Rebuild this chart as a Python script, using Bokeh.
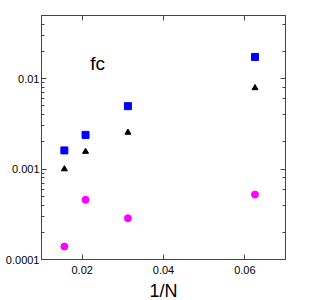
from bokeh.plotting import figure
from bokeh.models import LinearAxis, LogAxis, Label, FixedTicker, CustomJSTickFormatter
from bokeh.embed import file_html
from bokeh.resources import INLINE

# data
invN = [0.015625, 0.0208333, 0.03125, 0.0625]
blue_sq = [0.00161, 0.00239, 0.00497, 0.0174]
black_tri = [0.00100, 0.00156, 0.00254, 0.0079]
magenta_c = [0.000139, 0.000457, 0.000286, 0.000523]

xticks = [0.02, 0.04, 0.06]
xtick_labels = ["0.02", "0.04", "0.06"]
yticks = [0.0001, 0.001, 0.01]
ytick_labels = ["0.0001", "0.001", "0.01"]

FONT = "Liberation Sans"
AXC = "#444444"

p = figure(y_axis_type="log", x_range=(0.01, 0.07), y_range=(1e-4, 0.05),
           frame_width=244, frame_height=244,
           min_border_left=41, min_border_top=15, min_border_right=30, min_border_bottom=41,
           output_backend="svg", toolbar_location=None)
p.grid.visible = False
p.outline_line_color = AXC

empty = CustomJSTickFormatter(code="return ''")

# bottom axis
xa = p.xaxis[0]
xa.ticker = FixedTicker(ticks=xticks)
xa.major_label_overrides = {t: l for t, l in zip(xticks, xtick_labels)}
xa.major_label_text_font = FONT
xa.major_label_text_font_size = "11px"
xa.major_label_text_color = "black"
xa.major_label_standoff = 6
xa.major_tick_in = 5
xa.major_tick_out = 0
xa.minor_tick_in = 0
xa.minor_tick_out = 0
xa.axis_line_color = AXC
xa.major_tick_line_color = AXC
xa.axis_label = "1/N"
xa.axis_label_text_font = FONT
xa.axis_label_text_font_size = "18px"
xa.axis_label_text_font_style = "normal"
xa.axis_label_text_color = "black"
xa.axis_label_standoff = 4

# left axis
ya = p.yaxis[0]
ya.ticker.desired_num_ticks = 3
ya.major_label_overrides = {t: l for t, l in zip(yticks, ytick_labels)}
ya.major_label_text_font = FONT
ya.major_label_text_font_size = "11px"
ya.major_label_text_color = "black"
ya.major_label_standoff = 2
ya.major_tick_in = 5
ya.major_tick_out = 0
ya.minor_tick_in = 3
ya.minor_tick_out = 0
ya.axis_line_color = AXC
ya.major_tick_line_color = AXC
ya.minor_tick_line_color = AXC

# top axis
ta = LinearAxis(ticker=FixedTicker(ticks=xticks), formatter=empty,
                major_tick_in=5, major_tick_out=0, minor_tick_in=0, minor_tick_out=0,
                major_label_standoff=0, axis_line_color=AXC, major_tick_line_color=AXC)
p.add_layout(ta, "above")

# right axis
ra = LogAxis(formatter=empty, major_tick_in=5, major_tick_out=0, minor_tick_in=3, minor_tick_out=0,
             major_label_standoff=0, axis_line_color=AXC, major_tick_line_color=AXC,
             minor_tick_line_color=AXC)
ra.ticker.desired_num_ticks = 3
p.add_layout(ra, "right")

# data
p.scatter(invN, blue_sq, marker="square", size=7, color="#0000ff")
p.scatter(invN, black_tri, marker="triangle", size=6, color="black")
p.scatter(invN, magenta_c, marker="circle", size=7, color="#ff00ff")

p.add_layout(Label(x=0.022, y=0.0146, text="fc", text_align="left", text_baseline="middle",
                   text_font=FONT, text_font_size="19px", text_color="black"))

open("out.html", "w").write(file_html(p, INLINE))
